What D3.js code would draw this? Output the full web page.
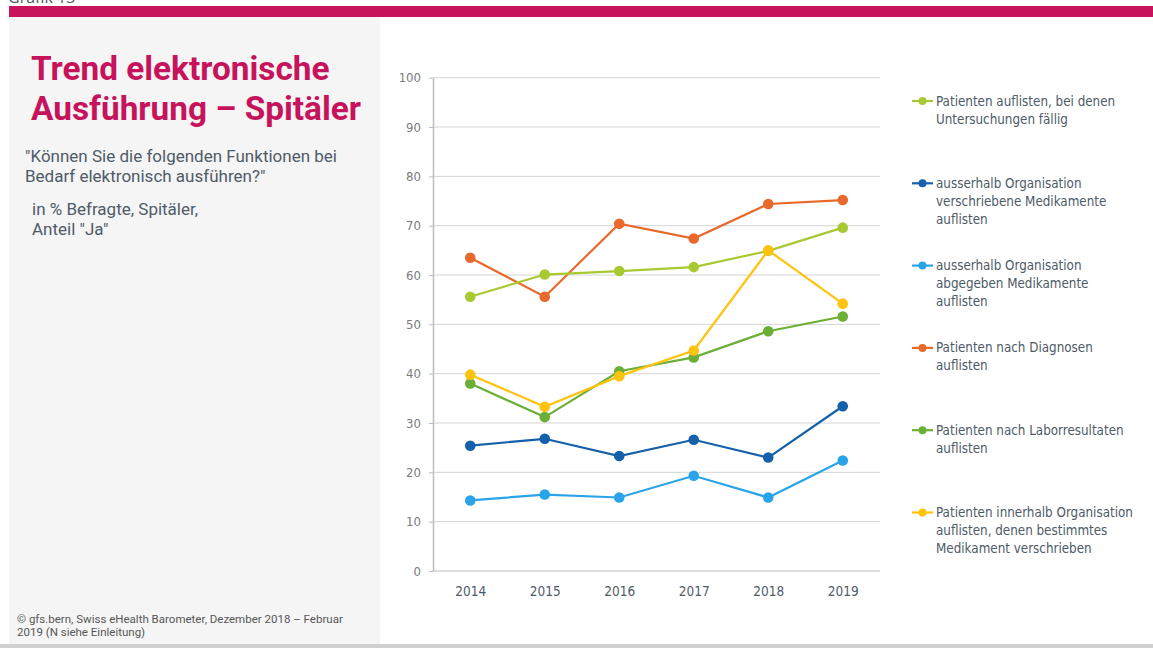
<!DOCTYPE html>
<html>
<head>
<meta charset="utf-8">
<script src="https://cdn.jsdelivr.net/npm/d3@7"></script>
<style>
  html, body { margin: 0; padding: 0; background: #fff; }
  svg { display: block; }
</style>
</head>
<body>
<div id="chart"></div>
<script>
// Trend elektronische Ausführung – Spitäler

const years = ["2014", "2015", "2016", "2017", "2018", "2019"];
const yTicks = [0, 10, 20, 30, 40, 50, 60, 70, 80, 90, 100];

const seriesNames = [
  ["Patienten auflisten, bei denen", "Untersuchungen fällig"],
  ["ausserhalb Organisation", "verschriebene Medikamente", "auflisten"],
  ["ausserhalb Organisation", "abgegeben Medikamente", "auflisten"],
  ["Patienten nach Diagnosen", "auflisten"],
  ["Patienten nach Laborresultaten", "auflisten"],
  ["Patienten innerhalb Organisation", "auflisten, denen bestimmtes", "Medikament verschrieben"]
];
const seriesColors = ["#A9C932", "#1460AA", "#2AA4E8", "#E8692B", "#6BAF37", "#FFC20E"];

const untersuchungen = [55.6, 60.1, 60.8, 61.6, 64.9, 69.6];
const verschriebeneAusserhalb = [25.4, 26.8, 23.3, 26.6, 23.0, 33.4];
const abgegebenAusserhalb = [14.3, 15.5, 14.9, 19.3, 14.9, 22.4];
const diagnosen = [63.5, 55.6, 70.4, 67.4, 74.4, 75.2];
const laborresultate = [38.0, 31.2, 40.5, 43.3, 48.6, 51.6];
const innerhalbMedikament = [39.8, 33.3, 39.5, 44.7, 65.0, 54.2];

const seriesValues = [untersuchungen, verschriebeneAusserhalb, abgegebenAusserhalb,
                      diagnosen, laborresultate, innerhalbMedikament];
// drawing order (back to front)
const drawOrder = [3, 0, 1, 2, 4, 5];

const W = 1153, H = 648;
const svg = d3.select("#chart").append("svg")
  .attr("width", W).attr("height", H);

// scale a text group so that one of its lines has the wanted width
function fitWidth(group, lineNode, baseSize, wanted, maxSize) {
  const len = lineNode.getComputedTextLength();
  if (len > 0) group.attr("font-size", Math.min(maxSize, baseSize * wanted / len) + "px");
}

// frame
svg.append("text")
  .attr("x", 8).attr("y", 3)
  .attr("font-family", "'Open Sans', sans-serif")
  .attr("font-size", "16px")
  .attr("fill", "#4b5563")
  .text("Grafik 13");
svg.append("rect").attr("x", 9).attr("y", 6).attr("width", W - 9).attr("height", 11).attr("fill", "#C6135B");
svg.append("rect").attr("x", 9).attr("y", 17).attr("width", 371).attr("height", 627).attr("fill", "#F5F5F5");
svg.append("rect").attr("x", 0).attr("y", 644).attr("width", W).attr("height", 4).attr("fill", "#D0D0D0");

// title
const title = svg.append("text")
  .attr("font-family", "Roboto, 'Open Sans', sans-serif")
  .attr("font-weight", "bold")
  .attr("font-size", "33px")
  .attr("fill", "#C6135B");
title.append("tspan").attr("x", 31).attr("y", 80).text("Trend elektronische");
const t2 = title.append("tspan").attr("x", 31).attr("y", 120).text("Ausführung – Spitäler");
fitWidth(title, t2.node(), 33, 330, 36);

const sub = svg.append("g")
  .attr("font-family", "Roboto, 'Open Sans', sans-serif")
  .attr("font-size", "16px")
  .attr("fill", "#4E5B68");
const s1 = sub.append("text").attr("x", 25).attr("y", 162).text("\"Können Sie die folgenden Funktionen bei");
sub.append("text").attr("x", 25).attr("y", 182).text("Bedarf elektronisch ausführen?\"");
sub.append("text").attr("x", 32).attr("y", 215).text("in % Befragte, Spitäler,");
sub.append("text").attr("x", 32).attr("y", 235).text("Anteil \"Ja\"");
fitWidth(sub, s1.node(), 16, 322, 17);

const foot = svg.append("g")
  .attr("font-family", "Roboto, 'Open Sans', sans-serif")
  .attr("font-size", "11px")
  .attr("fill", "#555");
const f1 = foot.append("text").attr("x", 17).attr("y", 623).text("© gfs.bern, Swiss eHealth Barometer, Dezember 2018 – Februar");
foot.append("text").attr("x", 17).attr("y", 636).text("2019 (N siehe Einleitung)");
fitWidth(foot, f1.node(), 11, 345, 11.5);

// chart
const plot = { left: 433, right: 880, top: 77.7, bottom: 571 };

const x = d3.scalePoint()
  .domain(years)
  .range([plot.left, plot.right])
  .padding(0.5);

const y = d3.scaleLinear()
  .domain([0, 100])
  .range([plot.bottom, plot.top]);

const condensed = "'DejaVu Sans Condensed', 'Liberation Sans Narrow', sans-serif";

// gridlines
svg.append("g").selectAll("line")
  .data(yTicks.filter(d => d > 0))
  .enter().append("line")
  .attr("x1", plot.left).attr("x2", plot.right)
  .attr("y1", d => y(d)).attr("y2", d => y(d))
  .attr("stroke", "#D4D4D4").attr("stroke-width", 1);

// y axis
const yAxis = svg.append("g")
  .attr("transform", `translate(${plot.left},0)`)
  .call(d3.axisLeft(y).tickValues(yTicks).tickSize(4).tickPadding(8).tickSizeOuter(0));
yAxis.select(".domain").attr("stroke", "#BDBDBD").attr("stroke-width", 1.5);
yAxis.selectAll(".tick line").attr("stroke", "#BDBDBD");
yAxis.selectAll("text")
  .attr("font-family", condensed)
  .attr("font-size", "13px")
  .attr("fill", "#7B7B7B");

// x axis
const xAxis = svg.append("g")
  .attr("transform", `translate(0,${plot.bottom})`)
  .call(d3.axisBottom(x).tickSize(0).tickPadding(15));
xAxis.select(".domain").attr("stroke", "#BDBDBD").attr("d", `M${plot.left},0H${plot.right}`);
xAxis.selectAll("text")
  .attr("font-family", condensed)
  .attr("font-size", "13.5px")
  .attr("fill", "#4E5B68");

// lines
const line = d3.line()
  .x((d, i) => x(years[i]))
  .y(d => y(d));

drawOrder.forEach(k => {
  const g = svg.append("g");
  g.append("path")
    .datum(seriesValues[k])
    .attr("d", line)
    .attr("fill", "none")
    .attr("stroke", seriesColors[k])
    .attr("stroke-width", 2.2);
  g.selectAll("circle")
    .data(seriesValues[k])
    .enter().append("circle")
    .attr("cx", (d, i) => x(years[i]))
    .attr("cy", d => y(d))
    .attr("r", 5.3)
    .attr("fill", seriesColors[k]);
});

// legend
const legend = svg.append("g")
  .attr("font-family", condensed)
  .attr("font-size", "13.3px")
  .attr("fill", "#4E5B68");

seriesNames.forEach((lines, k) => {
  const ly = 105.5 + k * 82.3;
  const item = legend.append("g").attr("transform", `translate(0,${ly})`);
  item.append("line")
    .attr("x1", 912).attr("x2", 933).attr("y1", -4.5).attr("y2", -4.5)
    .attr("stroke", seriesColors[k]).attr("stroke-width", 2.2);
  item.append("circle")
    .attr("cx", 922.5).attr("cy", -4.5).attr("r", 4)
    .attr("fill", seriesColors[k]);
  lines.forEach((t, j) => {
    item.append("text")
      .attr("x", 936).attr("y", j * 18)
      .text(t);
  });
});
</script>
</body>
</html>
